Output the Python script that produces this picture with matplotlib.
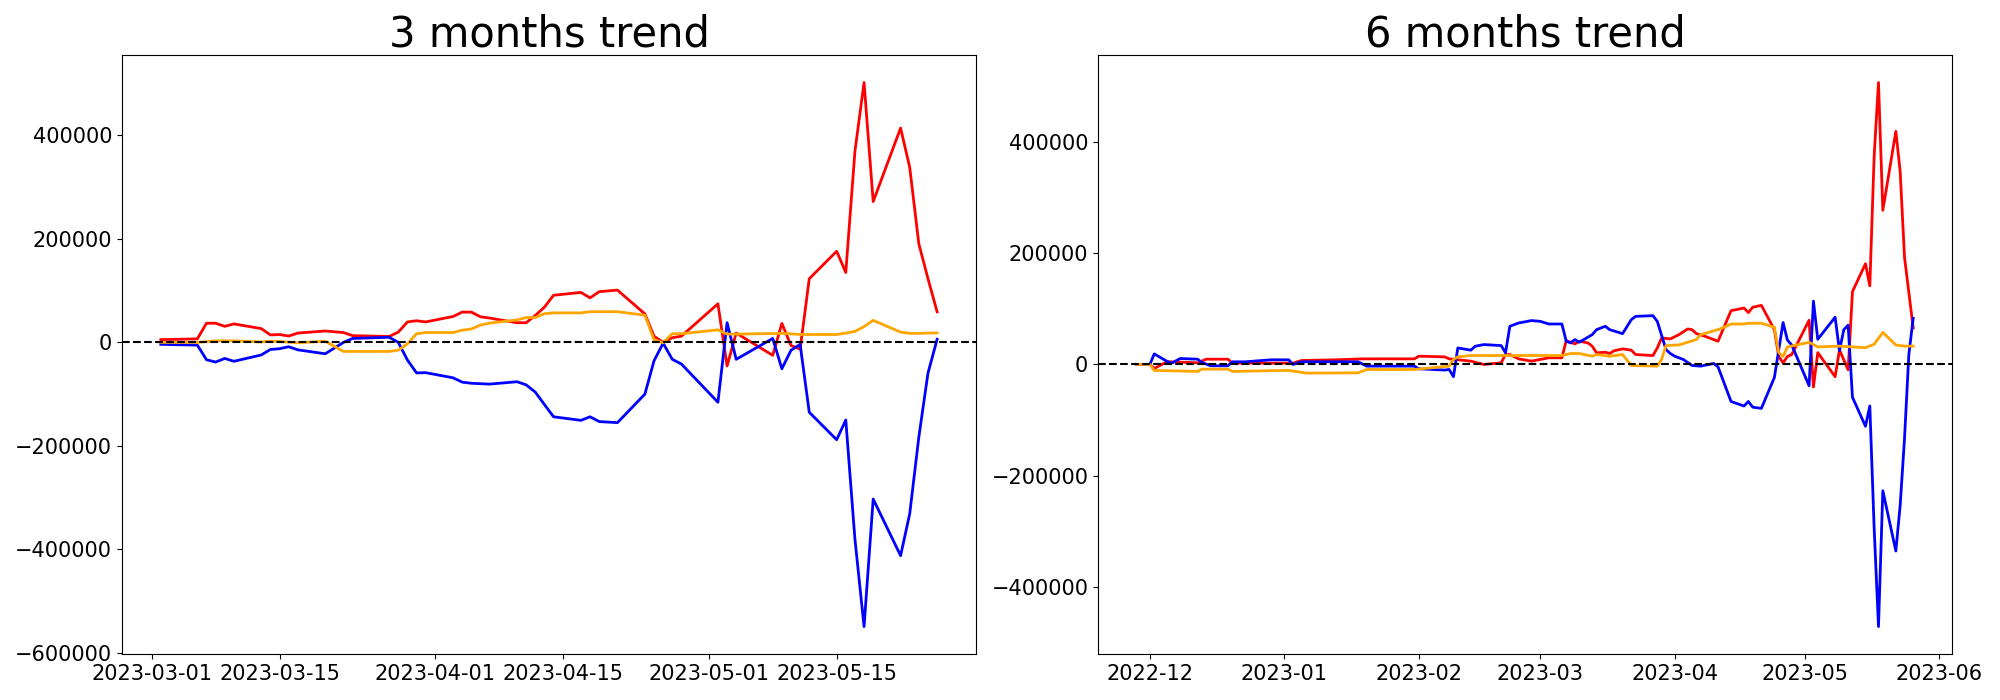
import matplotlib
matplotlib.use("Agg")
import matplotlib.pyplot as plt
import pandas as pd

# ---- 3 months window (shared trading days) ----
dates_3m = ["2023-03-02", "2023-03-06", "2023-03-07", "2023-03-08", "2023-03-09", "2023-03-10",
            "2023-03-13", "2023-03-14", "2023-03-15", "2023-03-16", "2023-03-17", "2023-03-20",
            "2023-03-22", "2023-03-23", "2023-03-27", "2023-03-28", "2023-03-29", "2023-03-30",
            "2023-03-31", "2023-04-03", "2023-04-04", "2023-04-05", "2023-04-06", "2023-04-07",
            "2023-04-10", "2023-04-11", "2023-04-12", "2023-04-13", "2023-04-14", "2023-04-17",
            "2023-04-18", "2023-04-19", "2023-04-21", "2023-04-24", "2023-04-25", "2023-04-26",
            "2023-04-27", "2023-04-28", "2023-05-02", "2023-05-03", "2023-05-04", "2023-05-08",
            "2023-05-09", "2023-05-10", "2023-05-11", "2023-05-12", "2023-05-15", "2023-05-16",
            "2023-05-17", "2023-05-18", "2023-05-19", "2023-05-22", "2023-05-23", "2023-05-24",
            "2023-05-25", "2023-05-26"]
red_3m = [5300, 6800, 37000, 37000, 31000, 35700, 26600, 14400, 15200, 12200, 18000, 22000,
          19000, 13000, 11400, 19800, 39500, 41800, 39500, 50000, 58500, 58500, 49400, 47000,
          38000, 38000, 52000, 68000, 91000, 96500, 86000, 98000, 101000, 55000, 12000, 0,
          9000, 12000, 74500, -45600, 18000, -25000, 36500, -6000, -13000, 123000, 176000, 135000,
          369000, 502000, 272000, 414000, 338000, 190000, 123000, 59000]
blue_3m = [-3800, -5300, -33500, -38000, -31000, -36500, -24300, -13700, -12200, -8400, -14400, -22000,
           0, 7600, 9900, 0, -34000, -59000, -58500, -68400, -76800, -79000, -79800, -80600,
           -76000, -82000, -96000, -120000, -143700, -150600, -143700, -153000, -155000, -100000, -35700, -1500,
           -32700, -41800, -115600, 38000, -32700, 7600, -51000, -15200, -3800, -135000, -188000, -150000,
           -380000, -549000, -302600, -412000, -331000, -182500, -59300, 6000]
orange_3m = [0, 0, 1500, 3000, 3000, 3000, 800, 2300, 1500, 500, -800, 2300,
             -17500, -17500, -17500, -15000, -3000, 16700, 19000, 19000, 23600, 25900, 33500, 37300,
             43300, 48000, 48000, 55500, 57000, 57000, 59300, 59300, 59300, 52500, 5300, -800,
             16700, 16700, 24300, 16000, 16000, 17000, 17500, 16500, 15200, 15200, 15200, 18000,
             21300, 30400, 42600, 19800, 17500, 17500, 18000, 18200]

# ---- 6 months window ----
red_6m_dates = ["2022-11-28", "2022-12-01", "2022-12-02", "2022-12-05", "2022-12-12", "2022-12-14",
                "2022-12-19", "2022-12-20", "2023-01-03", "2023-01-05", "2023-01-13", "2023-01-19",
                "2023-01-31", "2023-02-01", "2023-02-07", "2023-02-08", "2023-02-13", "2023-02-16",
                "2023-02-20", "2023-02-21", "2023-02-22", "2023-02-24", "2023-02-27", "2023-03-01",
                "2023-03-03", "2023-03-06", "2023-03-07", "2023-03-09", "2023-03-10", "2023-03-12",
                "2023-03-13", "2023-03-14", "2023-03-16", "2023-03-17", "2023-03-18", "2023-03-20",
                "2023-03-22", "2023-03-23", "2023-03-27", "2023-03-28", "2023-03-29", "2023-03-31",
                "2023-04-02", "2023-04-04", "2023-04-05", "2023-04-06", "2023-04-08", "2023-04-10",
                "2023-04-11", "2023-04-14", "2023-04-17", "2023-04-18", "2023-04-19", "2023-04-21",
                "2023-04-24", "2023-04-25", "2023-04-26", "2023-04-27", "2023-04-28", "2023-05-02",
                "2023-05-03", "2023-05-04", "2023-05-08", "2023-05-09", "2023-05-11", "2023-05-12",
                "2023-05-15", "2023-05-16", "2023-05-17", "2023-05-18", "2023-05-19", "2023-05-22",
                "2023-05-23", "2023-05-24", "2023-05-26"]
red_6m = [0, 0, -7200, 5000, 3000, 9500, 9500, 2400, 2400, 7200, 8400, 10100,
          10100, 14900, 13700, 10100, 6000, 0, 3000, 17900, 17900, 10100, 6000, 9000,
          12000, 12000, 43000, 37000, 41800, 38800, 32800, 20900, 22100, 19700, 24500, 28100,
          25700, 17900, 16100, 29800, 47800, 46000, 53700, 63900, 62700, 55500, 50700, 44800,
          41800, 96800, 101600, 93400, 103000, 106400, 62500, 14400, 2700, 14400, 17900, 79600,
          -40500, 21300, -22000, 26100, -9600, 131100, 181300, 141400, 374900, 507400, 277400, 419500,
          347400, 192900, 65900]

blue_6m_dates = ["2022-11-28", "2022-12-01", "2022-12-02", "2022-12-05", "2022-12-06", "2022-12-08",
                 "2022-12-12", "2022-12-13", "2022-12-15", "2022-12-19", "2022-12-20", "2022-12-23",
                 "2022-12-29", "2023-01-02", "2023-01-03", "2023-01-05", "2023-01-18", "2023-01-20",
                 "2023-01-31", "2023-02-01", "2023-02-07", "2023-02-08", "2023-02-09", "2023-02-10",
                 "2023-02-13", "2023-02-14", "2023-02-16", "2023-02-20", "2023-02-21", "2023-02-22",
                 "2023-02-24", "2023-02-27", "2023-03-01", "2023-03-03", "2023-03-06", "2023-03-07",
                 "2023-03-08", "2023-03-09", "2023-03-10", "2023-03-13", "2023-03-14", "2023-03-16",
                 "2023-03-17", "2023-03-20", "2023-03-22", "2023-03-23", "2023-03-27", "2023-03-28",
                 "2023-03-30", "2023-03-31", "2023-04-01", "2023-04-03", "2023-04-05", "2023-04-07",
                 "2023-04-10", "2023-04-11", "2023-04-14", "2023-04-17", "2023-04-18", "2023-04-19",
                 "2023-04-21", "2023-04-24", "2023-04-26", "2023-04-27", "2023-04-28", "2023-05-02",
                 "2023-05-03", "2023-05-04", "2023-05-08", "2023-05-09", "2023-05-10", "2023-05-11",
                 "2023-05-12", "2023-05-15", "2023-05-16", "2023-05-17", "2023-05-18", "2023-05-19",
                 "2023-05-22", "2023-05-23", "2023-05-24", "2023-05-25", "2023-05-26"]
blue_6m = [0, 0, 19000, 5400, 2400, 10700, 9500, 3600, -2400, -2400, 4800, 4800,
           8400, 8400, 0, 4800, 4800, -3000, -3000, -7800, -10100, -9000, -22000, 29800,
           25700, 32800, 35800, 34000, 20900, 68700, 74600, 79000, 77600, 72800, 72800, 41800,
           38800, 44800, 40000, 53700, 62700, 68700, 62700, 55500, 80600, 86600, 87800, 77600,
           26900, 19700, 14900, 9000, -1800, -3000, 1800, -4200, -66600, -74800, -66600, -76900,
           -79000, -23300, 75500, 43900, 35000, -38400, 114000, 45300, 85100, 24700, 62500, 70700,
           -59000, -111200, -74800, -294500, -471700, -227200, -335700, -253400, -133200, 17900, 83100]

orange_6m_dates = ["2022-11-28", "2022-12-01", "2022-12-02", "2022-12-12", "2022-12-13", "2022-12-19",
                   "2022-12-20", "2023-01-02", "2023-01-06", "2023-01-18", "2023-01-20", "2023-01-31",
                   "2023-02-08", "2023-02-09", "2023-02-10", "2023-02-13", "2023-03-06", "2023-03-08",
                   "2023-03-10", "2023-03-13", "2023-03-14", "2023-03-17", "2023-03-20", "2023-03-22",
                   "2023-03-28", "2023-03-29", "2023-03-30", "2023-04-02", "2023-04-06", "2023-04-07",
                   "2023-04-11", "2023-04-12", "2023-04-14", "2023-04-17", "2023-04-18", "2023-04-21",
                   "2023-04-24", "2023-04-25", "2023-04-26", "2023-04-27", "2023-04-29", "2023-05-02",
                   "2023-05-04", "2023-05-09", "2023-05-15", "2023-05-17", "2023-05-19", "2023-05-22",
                   "2023-05-24", "2023-05-26"]
orange_6m = [0, 0, -10700, -12500, -8400, -8400, -12500, -10700, -15500, -15000, -9000, -9000,
             -3000, 9000, 13700, 16100, 16100, 19700, 19700, 14900, 17900, 14900, 17900, -1800,
             -3000, 9000, 34000, 35200, 44800, 53700, 62700, 65700, 72800, 72800, 74200, 74200,
             67000, 21300, 14400, 31600, 35000, 39800, 31600, 33000, 30200, 36400, 57700, 35000,
             33000, 33000]

fig, (ax1, ax2) = plt.subplots(1, 2, figsize=(20, 7), dpi=100)
fig.subplots_adjust(left=0.061, right=0.976, bottom=0.066, top=0.921, wspace=0.143)

# left: 3 months
d3 = pd.to_datetime(dates_3m)
ax1.plot(d3, red_3m, color="red", linewidth=2)
ax1.plot(d3, blue_3m, color="blue", linewidth=2)
ax1.plot(d3, orange_3m, color="orange", linewidth=2)
ax1.axhline(0, color="black", linestyle="--", linewidth=1.5)
ax1.set_title("3 months trend", fontsize=30)

# right: 6 months
ax2.plot(pd.to_datetime(red_6m_dates), red_6m, color="red", linewidth=2)
ax2.plot(pd.to_datetime(blue_6m_dates), blue_6m, color="blue", linewidth=2)
ax2.plot(pd.to_datetime(orange_6m_dates), orange_6m, color="orange", linewidth=2)
ax2.axhline(0, color="black", linestyle="--", linewidth=1.5)
ax2.set_title("6 months trend", fontsize=30)

for ax in (ax1, ax2):
    ax.tick_params(labelsize=15)

fig.savefig("out.png")
